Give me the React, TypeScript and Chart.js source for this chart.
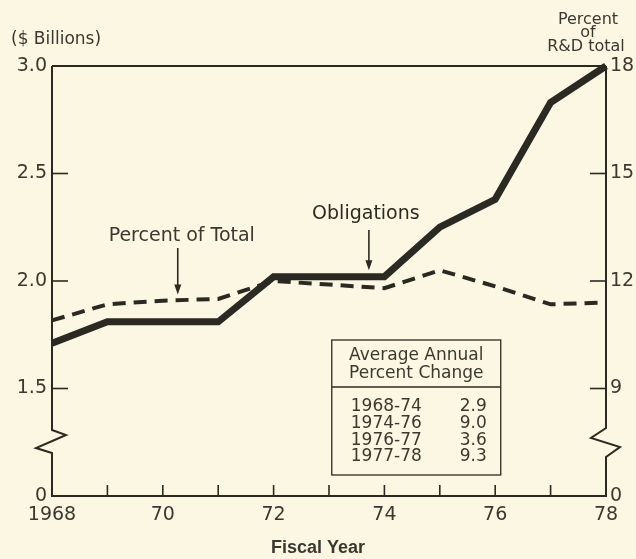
import { useEffect, useRef } from 'react';
import { Chart, registerables } from 'chart.js';

Chart.register(...registerables);

const years = ['1968', '1969', '1970', '1971', '1972', '1973', '1974', '1975', '1976', '1977', '1978'];
const obligations = [1.71, 1.81, 1.81, 1.81, 2.02, 2.02, 2.02, 2.25, 2.38, 2.83, 3.0];
const percentOfTotal = [10.9, 11.35, 11.45, 11.5, 12.0, 11.9, 11.8, 12.3, 11.85, 11.35, 11.4];

const leftTickValues = [1, 1.5, 2, 2.5, 3];
const leftTickLabels = ['0', '1.5', '2.0', '2.5', '3.0'];
const rightTickValues = [6, 9, 12, 15, 18];
const rightTickLabels = ['0', '9', '12', '15', '18'];

const tableHeader = ['Average Annual', 'Percent Change'];
const tablePeriods = ['1968-74', '1974-76', '1976-77', '1977-78'];
const tableChanges = ['2.9', '9.0', '3.6', '9.3'];

const INK = '#2b2a22';
const TEXT = '#3a3930';
const BG = '#fbf7e3';
const FONT = '"DejaVu Sans", sans-serif';

function xLabel(idx: number): string {
  const y = Number(years[idx]);
  if (idx === 0) return years[idx];
  return y % 2 === 0 ? String(y - 1900) : '';
}

const decorPlugin = {
  id: 'decor',
  beforeDraw(chart: any) {
    const ctx = chart.ctx;
    ctx.save();
    ctx.fillStyle = BG;
    ctx.fillRect(0, 0, chart.width, chart.height);
    ctx.restore();
  },
  afterDraw(chart: any) {
    const ctx = chart.ctx as CanvasRenderingContext2D;
    const { left, right, top, bottom } = chart.chartArea;
    const xs = chart.scales.x;
    const ys = chart.scales.y;
    const y2 = chart.scales.y2;
    ctx.save();
    ctx.strokeStyle = INK;
    ctx.fillStyle = TEXT;
    ctx.lineWidth = 2;
    ctx.lineJoin = 'miter';

    const poly = (pts: number[][]) => {
      ctx.beginPath();
      ctx.moveTo(pts[0][0], pts[0][1]);
      for (let i = 1; i < pts.length; i++) ctx.lineTo(pts[i][0], pts[i][1]);
      ctx.stroke();
    };

    // frame
    poly([[left, top], [right, top]]);
    poly([[left - 1, bottom], [right + 1, bottom]]);
    // left axis with break
    poly([[left, top], [left, bottom - 66], [left + 14, bottom - 61], [left - 16, bottom - 48], [left, bottom - 43], [left, bottom]]);
    // right axis with break
    poly([[right, top], [right, bottom - 68], [right - 15, bottom - 58], [right + 14, bottom - 49], [right, bottom - 39], [right, bottom]]);

    // inward tick marks
    ctx.lineWidth = 1.6;
    [1.5, 2, 2.5].forEach((v) => {
      const py = ys.getPixelForValue(v);
      poly([[left, py], [left + 16, py]]);
    });
    [9, 12, 15].forEach((v) => {
      const py = y2.getPixelForValue(v);
      poly([[right - 16, py], [right, py]]);
    });
    for (let i = 1; i < years.length - 1; i++) {
      const px = xs.getPixelForValue(i);
      poly([[px, bottom], [px, bottom - 11]]);
    }

    const arrow = (x: number, y0: number, y1: number) => {
      ctx.lineWidth = 1.6;
      poly([[x, y0], [x, y1 - 8]]);
      ctx.beginPath();
      ctx.moveTo(x - 3.5, y1 - 10);
      ctx.lineTo(x + 3.5, y1 - 10);
      ctx.lineTo(x, y1);
      ctx.closePath();
      ctx.fillStyle = INK;
      ctx.fill();
    };

    // annotations
    ctx.fillStyle = TEXT;
    ctx.font = `19px ${FONT}`;
    ctx.textAlign = 'center';
    ctx.textBaseline = 'middle';
    const pX = xs.getPixelForValue(2.27);
    ctx.fillText('Percent of Total', pX + 4, 236);
    arrow(pX, 248, y2.getPixelForValue(11.62));
    const oX = xs.getPixelForValue(5.72);
    ctx.fillText('Obligations', oX - 3, 214);
    arrow(oX, 230, ys.getPixelForValue(2.05));

    // table box
    const bx0 = xs.getPixelForValue(5.05);
    const bx1 = xs.getPixelForValue(8.1);
    const by0 = 340;
    const by1 = 475;
    ctx.lineWidth = 1.3;
    ctx.strokeStyle = INK;
    ctx.strokeRect(bx0, by0, bx1 - bx0, by1 - by0);
    poly([[bx0, 387], [bx1, 387]]);
    ctx.fillStyle = TEXT;
    ctx.font = `17px ${FONT}`;
    ctx.textAlign = 'center';
    ctx.fillText(tableHeader[0], (bx0 + bx1) / 2, 356);
    ctx.fillText(tableHeader[1], (bx0 + bx1) / 2, 374);
    tablePeriods.forEach((p, i) => {
      const ty = 407 + i * 16.6;
      ctx.textAlign = 'left';
      ctx.fillText(p, bx0 + 19, ty);
      ctx.textAlign = 'right';
      ctx.fillText(tableChanges[i], bx1 - 14, ty);
    });

    // axis titles
    ctx.font = `17px ${FONT}`;
    ctx.textAlign = 'left';
    ctx.fillText('($ Billions)', 11, 40);
    ctx.font = `16px ${FONT}`;
    ctx.textAlign = 'center';
    ctx.fillText('Percent', 588, 20);
    ctx.fillText('of', 588, 33);
    ctx.fillText('R&D total', 586, 47);

    ctx.font = `bold 18px "Liberation Sans", Arial, sans-serif`;
    ctx.fillText('Fiscal Year', 318, 548);
    ctx.restore();
  },
};

export default function App() {
  const ref = useRef<HTMLCanvasElement | null>(null);
  useEffect(() => {
    if (!ref.current) return;
    const chart = new Chart(ref.current, {
      type: 'line',
      data: {
        labels: years,
        datasets: [
          {
            label: 'Obligations',
            data: obligations,
            yAxisID: 'y',
            borderColor: INK,
            borderWidth: 7,
            pointRadius: 0,
            tension: 0,
            fill: false,
            clip: false as any,
          },
          {
            label: 'Percent of Total',
            data: percentOfTotal,
            yAxisID: 'y2',
            borderColor: INK,
            borderWidth: 4,
            borderDash: [13, 8],
            pointRadius: 0,
            tension: 0,
            fill: false,
            clip: false as any,
          },
        ],
      },
      options: {
        responsive: false,
        animation: false,
        devicePixelRatio: 1,
        layout: { padding: { top: 66, left: 0, right: 0, bottom: 0 } },
        plugins: { legend: { display: false }, tooltip: { enabled: false }, title: { display: false } },
        scales: {
          x: {
            type: 'category',
            grid: { display: false, drawTicks: false },
            border: { display: false },
            afterFit: (s: any) => { s.height = 63; },
            ticks: {
              autoSkip: false,
              maxRotation: 0,
              padding: 8,
              color: TEXT,
              font: { family: FONT, size: 19 },
              callback: (_v: any, idx: number) => xLabel(idx),
            },
          },
          y: {
            type: 'linear',
            position: 'left',
            min: 1,
            max: 3,
            grid: { display: false, drawTicks: false },
            border: { display: false },
            afterFit: (s: any) => { s.width = 52; },
            afterBuildTicks: (s: any) => { s.ticks = leftTickValues.map((v) => ({ value: v })); },
            ticks: {
              padding: 5,
              color: TEXT,
              font: { family: FONT, size: 19 },
              callback: (v: any) => leftTickLabels[leftTickValues.indexOf(Number(v))] ?? '',
            },
          },
          y2: {
            type: 'linear',
            position: 'right',
            min: 6,
            max: 18,
            grid: { display: false, drawTicks: false },
            border: { display: false },
            afterFit: (s: any) => { s.width = 30; },
            afterBuildTicks: (s: any) => { s.ticks = rightTickValues.map((v) => ({ value: v })); },
            ticks: {
              padding: 4,
              color: TEXT,
              font: { family: FONT, size: 19 },
              callback: (v: any) => rightTickLabels[rightTickValues.indexOf(Number(v))] ?? '',
            },
          },
        },
      },
      plugins: [decorPlugin],
    });
    return () => chart.destroy();
  }, []);
  return (
    <div style={{ position: 'fixed', left: 0, top: 0, width: 636, height: 559 }}>
      <canvas ref={ref} width={636} height={559} />
    </div>
  );
}
